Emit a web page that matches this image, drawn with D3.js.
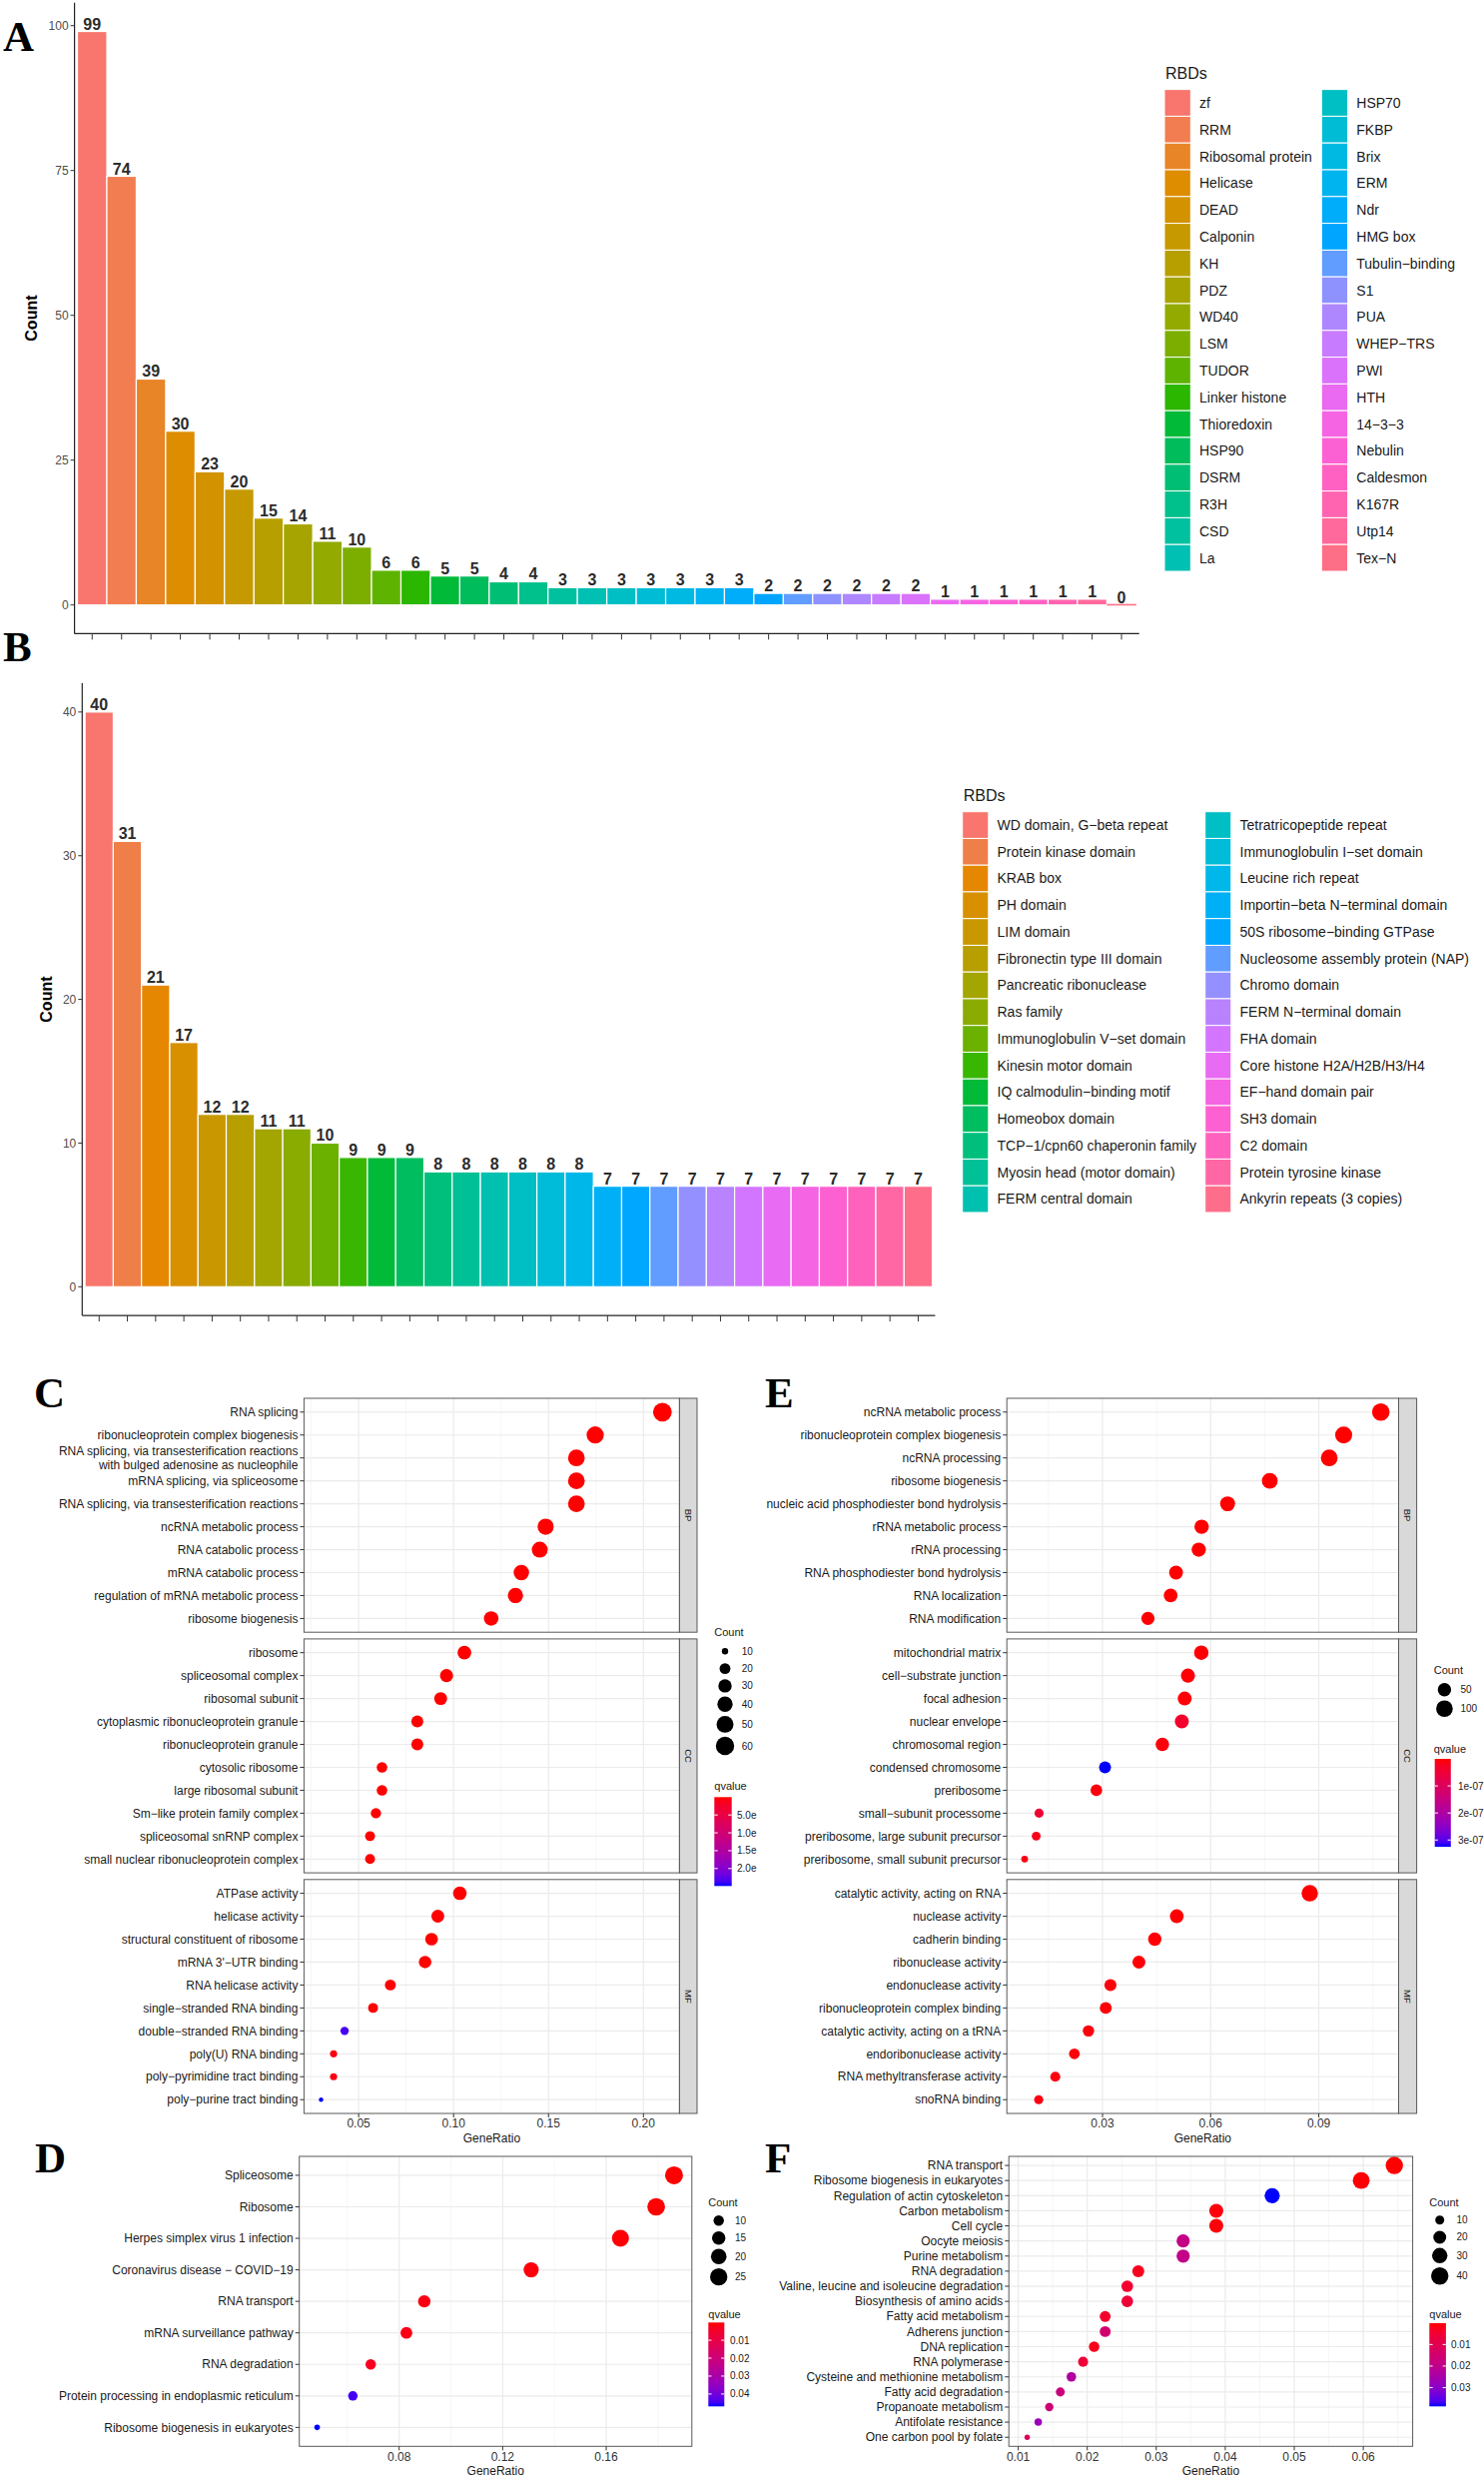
<!DOCTYPE html>
<html><head><meta charset="utf-8">
<script src="https://cdn.jsdelivr.net/npm/d3@7"></script>
<style>
body{margin:0;background:#fff}
svg{display:block}
text{font-family:"Liberation Sans",Arial,Helvetica,sans-serif}
</style>
</head><body>
<svg id="fig" width="1486" height="2480"></svg>
<script>
// ---------------- DATA ----------------
const rbdA = ["zf","RRM","Ribosomal protein","Helicase","DEAD","Calponin","KH","PDZ","WD40","LSM","TUDOR","Linker histone","Thioredoxin","HSP90","DSRM","R3H","CSD","La","HSP70","FKBP","Brix","ERM","Ndr","HMG box","Tubulin\u2212binding","S1","PUA","WHEP\u2212TRS","PWI","HTH","14\u22123\u22123","Nebulin","Caldesmon","K167R","Utp14","Tex\u2212N"];
const countA = [99,74,39,30,23,20,15,14,11,10,6,6,5,5,4,4,3,3,3,3,3,3,3,2,2,2,2,2,2,1,1,1,1,1,1,0];
const yTicksA = [0,25,50,75,100];

const rbdB = ["WD domain, G\u2212beta repeat","Protein kinase domain","KRAB box","PH domain","LIM domain","Fibronectin type III domain","Pancreatic ribonuclease","Ras family","Immunoglobulin V\u2212set domain","Kinesin motor domain","IQ calmodulin\u2212binding motif","Homeobox domain","TCP\u22121/cpn60 chaperonin family","Myosin head (motor domain)","FERM central domain","Tetratricopeptide repeat","Immunoglobulin I\u2212set domain","Leucine rich repeat","Importin\u2212beta N\u2212terminal domain","50S ribosome\u2212binding GTPase","Nucleosome assembly protein (NAP)","Chromo domain","FERM N\u2212terminal domain","FHA domain","Core histone H2A/H2B/H3/H4","EF\u2212hand domain pair","SH3 domain","C2 domain","Protein tyrosine kinase","Ankyrin repeats (3 copies)"];
const countB = [40,31,21,17,12,12,11,11,10,9,9,9,8,8,8,8,8,8,7,7,7,7,7,7,7,7,7,7,7,7];
const yTicksB = [0,10,20,30,40];

// Panel C (GO, set 1)
const cBPTerms = ["RNA splicing","ribonucleoprotein complex biogenesis","RNA splicing, via transesterification reactions\nwith bulged adenosine as nucleophile","mRNA splicing, via spliceosome","RNA splicing, via transesterification reactions","ncRNA metabolic process","RNA catabolic process","mRNA catabolic process","regulation of mRNA metabolic process","ribosome biogenesis"];
const cBPRatio = [0.210,0.1746,0.1647,0.1647,0.1647,0.1485,0.1454,0.1357,0.1326,0.1198];
const cBPCount = [63,52,49,49,49,45,44,41,40,36];
const cBPQ = [0.00001,0.00002,0.00003,0.00003,0.00003,0.00004,0.00005,0.00006,0.00007,0.00008];
const cCCTerms = ["ribosome","spliceosomal complex","ribosomal subunit","cytoplasmic ribonucleoprotein granule","ribonucleoprotein granule","cytosolic ribosome","large ribosomal subunit","Sm\u2212like protein family complex","spliceosomal snRNP complex","small nuclear ribonucleoprotein complex"];
const cCCRatio = [0.1057,0.0963,0.0932,0.0809,0.0809,0.0623,0.0623,0.0591,0.0560,0.0560];
const cCCCount = [32,29,28,24,24,19,19,18,17,17];
const cCCQ = [0.0001,0.0001,0.0002,0.0005,0.0005,0.001,0.001,0.002,0.003,0.003];
const cMFTerms = ["ATPase activity","helicase activity","structural constituent of ribosome","mRNA 3'\u2212UTR binding","RNA helicase activity","single\u2212stranded RNA binding","double\u2212stranded RNA binding","poly(U) RNA binding","poly\u2212pyrimidine tract binding","poly\u2212purine tract binding"];
const cMFRatio = [0.1033,0.0917,0.0884,0.0850,0.0667,0.0576,0.0426,0.0368,0.0368,0.0302];
const cMFCount = [31,28,27,26,20,17,13,11,11,9];
const cMFQ = [0.0001,0.0002,0.0003,0.0004,0.002,0.005,2.36,0.06,0.07,2.49];
const cXTicks = [0.05,0.10,0.15,0.20];
const cSizeBreaks = [10,20,30,40,50,60];
const cQBreaks = [0.5,1.0,1.5,2.0];
const cQLabels = ["5.0e","1.0e","1.5e","2.0e"];

// Panel E (GO, set 2)
const eBPTerms = ["ncRNA metabolic process","ribonucleoprotein complex biogenesis","ncRNA processing","ribosome biogenesis","nucleic acid phosphodiester bond hydrolysis","rRNA metabolic process","rRNA processing","RNA phosphodiester bond hydrolysis","RNA localization","RNA modification"];
const eBPRatio = [0.1072,0.0969,0.0929,0.0764,0.0647,0.0575,0.0567,0.0504,0.0489,0.0426];
const eBPCount = [118,107,102,84,71,63,62,55,54,47];
const eBPQ = [0.0001,0.0002,0.0003,0.0004,0.0005,0.0006,0.0007,0.0008,0.0009,0.001];
const eCCTerms = ["mitochondrial matrix","cell\u2212substrate junction","focal adhesion","nuclear envelope","chromosomal region","condensed chromosome","preribosome","small\u2212subunit processome","preribosome, large subunit precursor","preribosome, small subunit precursor"];
const eCCRatio = [0.0574,0.0537,0.0528,0.0520,0.0466,0.0307,0.0283,0.0124,0.0116,0.0084];
const eCCCount = [63,59,58,57,51,34,31,14,13,9];
const eCCQ = [0.02,0.03,0.03,0.36,0.05,3.25,0.06,0.42,0.15,0.10];
const eMFTerms = ["catalytic activity, acting on RNA","nuclease activity","cadherin binding","ribonuclease activity","endonuclease activity","ribonucleoprotein complex binding","catalytic activity, acting on a tRNA","endoribonuclease activity","RNA methyltransferase activity","snoRNA binding"];
const eMFRatio = [0.0875,0.0506,0.0445,0.0401,0.0322,0.0309,0.0261,0.0222,0.0169,0.0123];
const eMFCount = [96,56,49,44,35,34,29,24,19,14];
const eMFQ = [0.001,0.02,0.03,0.03,0.04,0.05,0.06,0.07,0.08,0.09];
const eXTicks = [0.03,0.06,0.09];
const eSizeBreaks = [50,100];
const eQBreaks = [1,2,3];
const eQLabels = ["1e-07","2e-07","3e-07"];

// Panel D (KEGG, set 1)
const dTerms = ["Spliceosome","Ribosome","Herpes simplex virus 1 infection","Coronavirus disease \u2212 COVID\u221219","RNA transport","mRNA surveillance pathway","RNA degradation","Protein processing in endoplasmic reticulum","Ribosome biogenesis in eukaryotes"];
const dRatio = [0.1862,0.1793,0.1655,0.1310,0.0897,0.0828,0.0690,0.0621,0.0483];
const dCount = [27,26,24,19,13,12,10,9,7];
const dQ = [0.0001,0.0002,0.0005,0.001,0.0015,0.002,0.003,0.0445,0.0469];
const dXTicks = [0.08,0.12,0.16];
const dSizeBreaks = [10,15,20,25];
const dQBreaks = [0.01,0.02,0.03,0.04];

// Panel F (KEGG, set 2)
const fTerms = ["RNA transport","Ribosome biogenesis in eukaryotes","Regulation of actin cytoskeleton","Carbon metabolism","Cell cycle","Oocyte meiosis","Purine metabolism","RNA degradation","Valine, leucine and isoleucine degradation","Biosynthesis of amino acids","Fatty acid metabolism","Adherens junction","DNA replication","RNA polymerase","Cysteine and methionine metabolism","Fatty acid degradation","Propanoate metabolism","Antifolate resistance","One carbon pool by folate"];
const fRatio = [0.0645,0.0597,0.0468,0.0387,0.0387,0.0339,0.0339,0.0274,0.0258,0.0258,0.0226,0.0226,0.0210,0.0194,0.0177,0.0161,0.0145,0.0129,0.0113];
const fCount = [40,37,29,24,24,21,21,17,16,16,14,14,13,12,11,10,9,8,7];
const fQ = [0.0001,0.0003,0.0387,0.0008,0.0006,0.0190,0.0190,0.0023,0.0045,0.0058,0.0045,0.0147,0.0020,0.0058,0.0232,0.0172,0.0160,0.0275,0.0116];
const fXTicks = [0.01,0.02,0.03,0.04,0.05,0.06];
const fSizeBreaks = [10,20,30,40];
const fQBreaks = [0.01,0.02,0.03];

// ---------------- HELPERS ----------------
const svg = d3.select("#fig");
svg.append("rect").attr("width",1486).attr("height",2480).attr("fill","#fff");
const defs = svg.append("defs");

// ggplot2 default hue palette (polar LUV)
function hclLuv(h, c, l) {
  const hr = h * Math.PI / 180;
  const U = c * Math.cos(hr), V = c * Math.sin(hr);
  const Xn = 95.047, Yn = 100.0, Zn = 108.883;
  const Y = l > 8 ? Yn * Math.pow((l + 16) / 116, 3) : Yn * l / 903.2963;
  const den = Xn + 15 * Yn + 3 * Zn;
  const un = 4 * Xn / den, vn = 9 * Yn / den;
  const up = U / (13 * l) + un, vp = V / (13 * l) + vn;
  const X = 9 * Y * up / (4 * vp);
  const Z = -X / 3 - 5 * Y + 3 * Y / vp;
  const x = X / 100, y = Y / 100, z = Z / 100;
  const lin = [3.240479*x - 1.537150*y - 0.498535*z,
               -0.969256*x + 1.875992*y + 0.041556*z,
               0.055648*x - 0.204043*y + 1.057311*z];
  const g = lin.map(v => {
    v = v <= 0.0031308 ? 12.92 * v : 1.055 * Math.pow(Math.max(v,0), 1/2.4) - 0.055;
    return Math.round(255 * Math.max(0, Math.min(1, v)));
  });
  return d3.rgb(g[0], g[1], g[2]).formatHex();
}
function hueColors(n) { return d3.range(n).map(i => hclLuv(15 + 360 * i / n, 100, 65)); }

function panelLetter(t, x, y) {
  svg.append("text").attr("x", x).attr("y", y)
    .style("font-family", '"Liberation Serif","Times New Roman",serif')
    .attr("font-weight", "bold").attr("font-size", 43).attr("fill", "#000").text(t);
}

// ---------------- BAR PANELS ----------------
function barPanel(o) {
  const g = svg.append("g");
  const x = d3.scaleBand().domain(o.names).range(o.xr).paddingInner(0).paddingOuter(0.1);
  const vmax = d3.max(o.values), ex = vmax * 0.05;
  const y = d3.scaleLinear().domain([-ex, vmax + ex]).range(o.yr);
  const colors = hueColors(o.names.length);
  const data = o.names.map((n, i) => ({ n, v: o.values[i], c: colors[i] }));

  g.selectAll("rect.bar").data(data).join("rect").attr("class", "bar")
    .attr("x", d => x(d.n)).attr("width", x.bandwidth())
    .attr("y", d => d.v > 0 ? y(d.v) : y(0) - 1)
    .attr("height", d => d.v > 0 ? y(0) - y(d.v) : 1.6)
    .attr("fill", d => d.c)
    .attr("stroke", d => d.v > 0 ? "#fff" : "none").attr("stroke-width", 1.2);

  g.selectAll("text.vl").data(data).join("text").attr("class", "vl")
    .attr("x", d => x(d.n) + x.bandwidth() / 2).attr("y", d => y(d.v) - 2)
    .attr("text-anchor", "middle").attr("font-size", 16).attr("font-weight", "bold")
    .attr("fill", "#2b2b2b").text(d => d.v);

  const x0 = o.xr[0], yb = o.yr[0];
  g.append("line").attr("x1", x0).attr("x2", x0).attr("y1", o.yr[1]).attr("y2", yb)
    .attr("stroke", "#222").attr("stroke-width", 1.2);
  g.append("line").attr("x1", x0).attr("x2", o.xr[1]).attr("y1", yb).attr("y2", yb)
    .attr("stroke", "#222").attr("stroke-width", 1.2);
  o.ticks.forEach(t => {
    g.append("line").attr("x1", x0 - 4).attr("x2", x0).attr("y1", y(t)).attr("y2", y(t))
      .attr("stroke", "#333").attr("stroke-width", 1);
    g.append("text").attr("x", x0 - 6).attr("y", y(t)).attr("dy", "0.35em")
      .attr("text-anchor", "end").attr("font-size", 12).attr("fill", "#4d4d4d").text(t);
  });
  data.forEach(d => {
    const cx = x(d.n) + x.bandwidth() / 2;
    g.append("line").attr("x1", cx).attr("x2", cx).attr("y1", yb).attr("y2", yb + 6)
      .attr("stroke", "#333").attr("stroke-width", 1);
  });
  g.append("text").attr("transform", `translate(${o.titleX},${(o.yr[0] + o.yr[1]) / 2}) rotate(-90)`)
    .attr("text-anchor", "middle").attr("dy", "0.35em").attr("font-size", 16)
    .attr("font-weight", "bold").attr("fill", "#000").text("Count");

  const L = o.legend;
  g.append("text").attr("x", L.x + 1).attr("y", L.titleY).attr("font-size", 16).attr("fill", "#1a1a1a").text("RBDs");
  data.forEach((d, i) => {
    const col = Math.floor(i / L.perCol), row = i % L.perCol;
    const bx = L.x + col * L.colGap, by = L.top + row * L.rowH;
    g.append("rect").attr("x", bx).attr("y", by).attr("width", L.boxW).attr("height", L.rowH)
      .attr("fill", d.c).attr("stroke", "#fff").attr("stroke-width", 1);
    g.append("text").attr("x", bx + L.boxW + L.labOff).attr("y", by + L.rowH / 2).attr("dy", "0.35em")
      .attr("font-size", 14).attr("fill", "#1a1a1a").text(d.n);
  });
}

// ---------------- DOT PANELS ----------------
function dotPanel(o) {
  const g = svg.append("g");
  const allR = o.facets.flatMap(f => f.ratio), allC = o.facets.flatMap(f => f.count), allQ = o.facets.flatMap(f => f.q);
  const rmn = d3.min(allR), rmx = d3.max(allR), pad = (rmx - rmn) * 0.05;
  const x = d3.scaleLinear().domain([rmn - pad, rmx + pad]).range([o.l, o.r]);
  const [d0, d1] = x.domain();
  const step = o.ticks[1] - o.ticks[0];
  const minors = d3.range(-4, 14).map(k => o.ticks[0] - step / 2 + k * step).filter(v => v > d0 && v < d1);
  const majors = o.ticks.filter(v => v > d0 && v < d1);
  const cmin = d3.min(allC), cmax = d3.max(allC);
  const sz = d3.scaleSqrt().domain([0, cmax - cmin]).range(o.rr);
  const rad = c => sz(Math.max(0, c - cmin));
  const qdom = [d3.min(allQ), d3.max(allQ)];
  const col = d3.scaleLinear().domain(qdom).range(["red", "blue"]).interpolate(d3.interpolateLab);

  o.facets.forEach((f, fi) => {
    const top = o.tops[fi], bot = top + o.h;
    const y = d3.scalePoint().domain(f.terms).range([top, bot]).padding(0.6);
    minors.forEach(v => g.append("line").attr("x1", x(v)).attr("x2", x(v)).attr("y1", top).attr("y2", bot)
      .attr("stroke", "#f2f2f2").attr("stroke-width", 0.7));
    majors.forEach(v => g.append("line").attr("x1", x(v)).attr("x2", x(v)).attr("y1", top).attr("y2", bot)
      .attr("stroke", "#ebebeb").attr("stroke-width", 1.2));
    f.terms.forEach(t => g.append("line").attr("x1", o.l).attr("x2", o.r).attr("y1", y(t)).attr("y2", y(t))
      .attr("stroke", "#ebebeb").attr("stroke-width", 1.2));
    const pts = f.terms.map((t, i) => ({ t, r: f.ratio[i], c: f.count[i], q: f.q[i] }));
    g.selectAll(null).data(pts).join("circle")
      .attr("cx", d => x(d.r)).attr("cy", d => y(d.t)).attr("r", d => rad(d.c))
      .attr("fill", d => col(d.q));
    g.append("rect").attr("x", o.l).attr("y", top).attr("width", o.r - o.l).attr("height", o.h)
      .attr("fill", "none").attr("stroke", "#595959").attr("stroke-width", 1);
    if (o.stripW) {
      g.append("rect").attr("x", o.r).attr("y", top).attr("width", o.stripW).attr("height", o.h)
        .attr("fill", "#d9d9d9").attr("stroke", "#595959").attr("stroke-width", 1);
      g.append("text").attr("transform", `translate(${o.r + o.stripW / 2},${top + o.h / 2}) rotate(90)`)
        .attr("text-anchor", "middle").attr("dy", "0.35em").attr("font-size", 9.5).attr("fill", "#1a1a1a").text(f.name);
    }
    f.terms.forEach(t => {
      g.append("line").attr("x1", o.l - 4).attr("x2", o.l).attr("y1", y(t)).attr("y2", y(t))
        .attr("stroke", "#333").attr("stroke-width", 1);
      const lines = t.split("\n");
      const tx = g.append("text").attr("text-anchor", "end").attr("font-size", 12).attr("fill", "#1a1a1a");
      lines.forEach((ln, li) => tx.append("tspan").attr("x", o.l - 6)
        .attr("y", y(t) + (li - (lines.length - 1) / 2) * 13.4).attr("dy", "0.35em").text(ln));
    });
  });
  const bot = o.tops[o.tops.length - 1] + o.h;
  majors.forEach(v => {
    g.append("line").attr("x1", x(v)).attr("x2", x(v)).attr("y1", bot).attr("y2", bot + 4)
      .attr("stroke", "#333").attr("stroke-width", 1);
    g.append("text").attr("x", x(v)).attr("y", bot + 14.3).attr("text-anchor", "middle")
      .attr("font-size", 12).attr("fill", "#333").text(d3.format(".2f")(v));
  });
  g.append("text").attr("x", (o.l + o.r) / 2).attr("y", bot + 29).attr("text-anchor", "middle")
    .attr("font-size", 12).attr("fill", "#1a1a1a").text("GeneRatio");

  // legend
  const L = o.legend;
  g.append("text").attr("x", L.x).attr("y", L.countTitleY).attr("font-size", 11).attr("fill", "#1a1a1a").text("Count");
  let cy = L.firstDotY, prevH = 0;
  L.counts.forEach((c, i) => {
    const r = rad(c), h = Math.max(17.28, 2 * r + 4);
    if (i > 0) cy += (prevH + h) / 2;
    prevH = h;
    g.append("circle").attr("cx", L.dotX).attr("cy", cy).attr("r", r).attr("fill", "#000");
    g.append("text").attr("x", L.labX).attr("y", cy).attr("dy", "0.35em").attr("font-size", 10)
      .attr("fill", "#1a1a1a").text(c);
  });
  g.append("text").attr("x", L.x).attr("y", L.qTitleY).attr("font-size", 11).attr("fill", "#1a1a1a").text("qvalue");
  const gid = "grad" + L.id;
  const grad = defs.append("linearGradient").attr("id", gid).attr("x1", 0).attr("y1", 0).attr("x2", 0).attr("y2", 1);
  d3.range(0, 1.0001, 0.05).forEach(t => grad.append("stop").attr("offset", t)
    .attr("stop-color", col(qdom[0] + t * (qdom[1] - qdom[0]))));
  g.append("rect").attr("x", L.barX).attr("y", L.barTop).attr("width", L.barW).attr("height", L.barBot - L.barTop)
    .attr("fill", `url(#${gid})`);
  const qy = d3.scaleLinear().domain(qdom).range([L.barTop, L.barBot]);
  L.qBreaks.forEach((b, i) => {
    const yy = qy(b);
    g.append("line").attr("x1", L.barX).attr("x2", L.barX + L.barW / 5).attr("y1", yy).attr("y2", yy)
      .attr("stroke", "#fff").attr("stroke-width", 1);
    g.append("line").attr("x1", L.barX + L.barW * 4 / 5).attr("x2", L.barX + L.barW).attr("y1", yy).attr("y2", yy)
      .attr("stroke", "#fff").attr("stroke-width", 1);
    g.append("text").attr("x", L.qLabX).attr("y", yy).attr("dy", "0.35em").attr("font-size", 10)
      .attr("fill", "#1a1a1a").text(L.qLabels[i]);
  });
}

// ---------------- DRAW ----------------
barPanel({
  names: rbdA, values: countA, ticks: yTicksA,
  xr: [74.6, 1140.7], yr: [634.4, 2.8], titleX: 31,
  legend: { x: 1166, titleY: 79, top: 89.6, rowH: 26.8, boxW: 26.3, colGap: 157.3, labOff: 8.7, perCol: 18 }
});
barPanel({
  names: rbdB, values: countB, ticks: yTicksB,
  xr: [82.3, 936.4], yr: [1317.1, 684.1], titleX: 46,
  legend: { x: 963.7, titleY: 802, top: 812.7, rowH: 26.75, boxW: 26.1, colGap: 243, labOff: 8.7, perCol: 15 }
});

const facetTops = [1400, 1640.9, 1881.8];
dotPanel({
  facets: [
    { name: "BP", terms: cBPTerms, ratio: cBPRatio, count: cBPCount, q: cBPQ },
    { name: "CC", terms: cCCTerms, ratio: cCCRatio, count: cCCCount, q: cCCQ },
    { name: "MF", terms: cMFTerms, ratio: cMFRatio, count: cMFCount, q: cMFQ }],
  l: 304.4, r: 680.4, tops: facetTops, h: 234.2, stripW: 17.6, ticks: cXTicks, rr: [2.2, 9.4],
  legend: { id: "C", x: 715.3, countTitleY: 1637.5, firstDotY: 1653.3, dotX: 726, labX: 742.7, counts: cSizeBreaks,
    qTitleY: 1792, barX: 715.3, barW: 17.4, barTop: 1799.3, barBot: 1888.3, qBreaks: cQBreaks, qLabels: cQLabels, qLabX: 738 }
});
dotPanel({
  facets: [
    { name: "BP", terms: eBPTerms, ratio: eBPRatio, count: eBPCount, q: eBPQ },
    { name: "CC", terms: eCCTerms, ratio: eCCRatio, count: eCCCount, q: eCCQ },
    { name: "MF", terms: eMFTerms, ratio: eMFRatio, count: eMFCount, q: eMFQ }],
  l: 1008.2, r: 1400.5, tops: facetTops, h: 234.2, stripW: 18.1, ticks: eXTicks, rr: [3.4, 8.8],
  legend: { id: "E", x: 1435.7, countTitleY: 1676, firstDotY: 1691.7, dotX: 1446.4, labX: 1462.5, counts: eSizeBreaks,
    qTitleY: 1754.5, barX: 1436.7, barW: 16.1, barTop: 1761, barBot: 1849, qBreaks: eQBreaks, qLabels: eQLabels, qLabX: 1460 }
});
dotPanel({
  facets: [{ name: "", terms: dTerms, ratio: dRatio, count: dCount, q: dQ }],
  l: 299.7, r: 692.8, tops: [2159], h: 290.3, stripW: 0, ticks: dXTicks, rr: [2.8, 9.0],
  legend: { id: "D", x: 709.3, countTitleY: 2209, firstDotY: 2223.3, dotX: 719.7, labX: 736, counts: dSizeBreaks,
    qTitleY: 2320.5, barX: 709.3, barW: 16, barTop: 2325.3, barBot: 2409.3, qBreaks: dQBreaks,
    qLabels: dQBreaks.map(d3.format(".2f")), qLabX: 731 }
});
dotPanel({
  facets: [{ name: "", terms: fTerms, ratio: fRatio, count: fCount, q: fQ }],
  l: 1010.2, r: 1414.6, tops: [2159], h: 290.3, stripW: 0, ticks: fXTicks, rr: [2.7, 8.7],
  legend: { id: "F", x: 1431.3, countTitleY: 2209, firstDotY: 2222.7, dotX: 1441.7, labX: 1458.4, counts: fSizeBreaks,
    qTitleY: 2320.5, barX: 1431.3, barW: 16.6, barTop: 2326, barBot: 2409.3, qBreaks: fQBreaks,
    qLabels: fQBreaks.map(d3.format(".2f")), qLabX: 1453 }
});

panelLetter("A", 3, 51);
panelLetter("B", 3, 662);
panelLetter("C", 34, 1409);
panelLetter("E", 766, 1409);
panelLetter("D", 35, 2175);
panelLetter("F", 766, 2175);
</script>
</body></html>
